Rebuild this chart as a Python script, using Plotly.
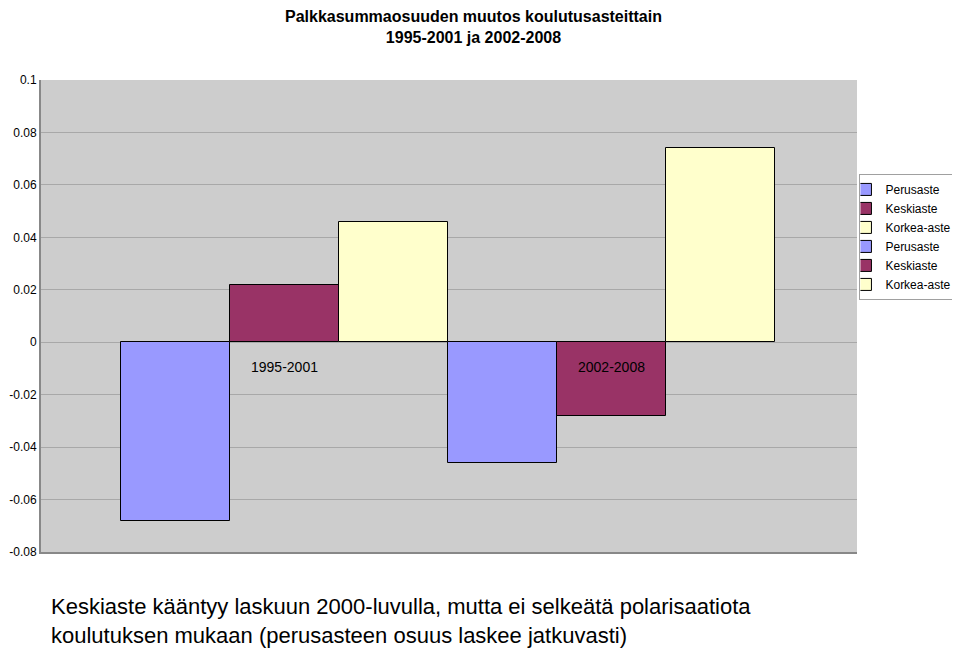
import plotly.graph_objects as go

# periods on the x axis
periods = ["1995-2001", "2002-2008"]
levels = ["Perusaste", "Keskiaste", "Korkea-aste"]

# change of wage-sum share, one value per level and period
change_1995_2001 = [-0.068, 0.022, 0.046]
change_2002_2008 = [-0.046, -0.028, 0.074]

y_ticks = [-0.08, -0.06, -0.04, -0.02, 0, 0.02, 0.04, 0.06, 0.08, 0.1]
y_tick_labels = ["-0.08", "-0.06", "-0.04", "-0.02", "0", "0.02", "0.04", "0.06", "0.08", "0.1"]

colors = ["#9999FF", "#993366", "#FFFFCC"]

FONT = "Liberation Sans, Arial, sans-serif"

fig = go.Figure()
# the source workbook has one series per level and period, hence six legend rows
for k, (label, value) in enumerate(zip(levels, change_1995_2001)):
    fig.add_trace(go.Bar(
        x=periods, y=[value, None], name=label, offsetgroup=str(k),
        marker=dict(color=colors[k], line=dict(color="black", width=1)),
    ))
for k, (label, value) in enumerate(zip(levels, change_2002_2008)):
    fig.add_trace(go.Bar(
        x=periods, y=[None, value], name=label, offsetgroup=str(k),
        marker=dict(color=colors[k], line=dict(color="black", width=1)),
    ))

# category labels sit just under the zero line, like in Excel
for p in periods:
    fig.add_annotation(x=p, y=0, text=p, showarrow=False, yshift=-25,
                       font=dict(family=FONT, size=14, color="black"))

fig.add_annotation(
    xref="paper", yref="paper", x=0.53, y=1.156, xanchor="center", yanchor="top",
    showarrow=False,
    text="<b>Palkkasummaosuuden muutos koulutusasteittain<br>1995-2001 ja 2002-2008</b>",
    font=dict(family=FONT, size=16, color="black"),
)
fig.add_annotation(
    xref="paper", yref="paper", x=0.01, y=-0.085, xanchor="left", yanchor="top",
    align="left", showarrow=False,
    text="Keskiaste kääntyy laskuun 2000-luvulla, mutta ei selkeätä polarisaatiota<br>"
         "koulutuksen mukaan (perusasteen osuus laskee jatkuvasti)",
    font=dict(family=FONT, size=22, color="black"),
)

# page body adds an 8px margin, so the figure is a bit smaller than the window
fig.update_layout(
    width=952, height=640,
    margin=dict(l=33, r=103, t=72, b=96, autoexpand=False),
    barmode="group", bargap=0, bargroupgap=0,
    plot_bgcolor="#CDCDCD", paper_bgcolor="white",
    font=dict(family=FONT, size=13, color="black"),
    legend=dict(
        x=1.003, y=0.801, xanchor="left", yanchor="top",
        bordercolor="#A0A0A0", borderwidth=1, bgcolor="white",
        font=dict(family=FONT, size=12), tracegroupgap=0, itemwidth=30,
        indentation=-15,
    ),
    showlegend=True,
)
fig.update_xaxes(range=[-0.743, 1.749], showticklabels=False, showgrid=False, automargin=False,
                 showline=True, linecolor="#888888", linewidth=2, zeroline=False)
fig.update_yaxes(range=[-0.08, 0.1], automargin=False,
                 tickvals=y_ticks, ticktext=y_tick_labels,
                 tickfont=dict(family=FONT, size=12),
                 showgrid=True, gridcolor="#A8A8A8", gridwidth=1,
                 zeroline=True, zerolinecolor="#A8A8A8", zerolinewidth=1,
                 showline=True, linecolor="#888888", linewidth=2,
                 ticks="", ticklabelstandoff=0)

fig.write_html("out.html")
